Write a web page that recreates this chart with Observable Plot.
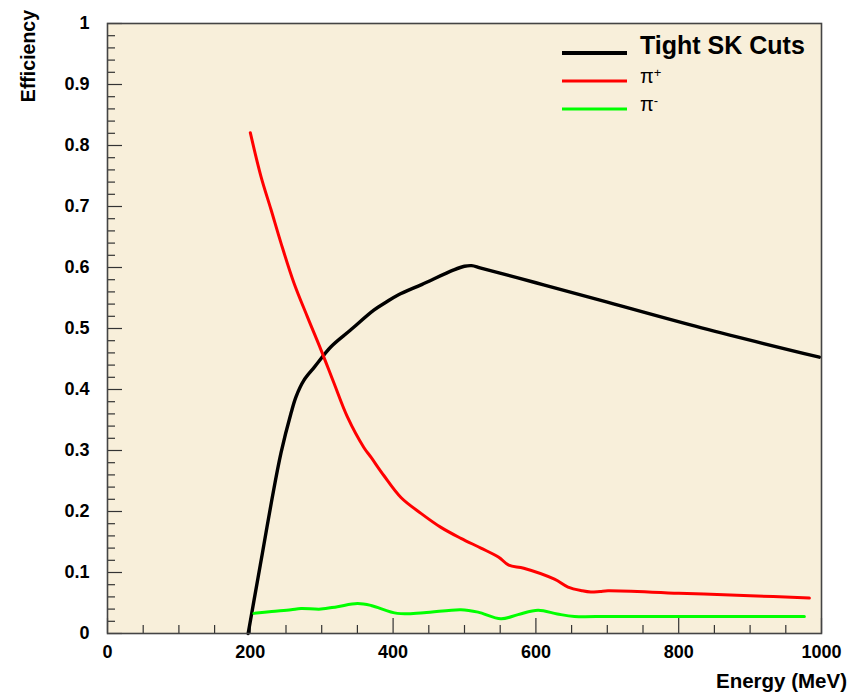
<!DOCTYPE html>
<html>
<head>
<meta charset="utf-8">
<script src="https://cdn.jsdelivr.net/npm/d3@7"></script>
<script src="https://cdn.jsdelivr.net/npm/@observablehq/plot@0.6"></script>
<style>
  html, body { margin: 0; padding: 0; background: #ffffff; }
  svg { display: block; }
</style>
</head>
<body>
<div id="chart"></div>
<script>
// Efficiency vs. energy for the tight SK cuts and for pi+ / pi- samples.
const seriesNames = ["Tight SK Cuts", "π+", "π-"];
const seriesColors = ["#000000", "#ff0000", "#00ff00"];
const seriesWidths = [3.4, 3, 3];

const tightEnergy = [197, 205, 217, 230, 243, 257, 264, 275, 290, 313, 340, 373, 390, 407, 440, 485, 500, 510, 523, 600, 691, 832, 997];
const tightEff    = [0, 0.053, 0.132, 0.218, 0.296, 0.361, 0.388, 0.415, 0.437, 0.470, 0.497, 0.530, 0.543, 0.555, 0.572, 0.596, 0.602, 0.603, 0.599, 0.575, 0.546, 0.501, 0.453];

const piPlusEnergy = [200, 215, 229, 243, 261, 280, 299, 317, 336, 359, 369, 387, 411, 439, 467, 495, 523, 548, 562, 583, 626, 645, 665, 677, 690, 701, 800, 900, 983];
const piPlusEff    = [0.821, 0.749, 0.695, 0.640, 0.575, 0.519, 0.465, 0.411, 0.355, 0.305, 0.289, 0.259, 0.223, 0.197, 0.174, 0.156, 0.140, 0.125, 0.112, 0.107, 0.089, 0.076, 0.070, 0.068, 0.069, 0.070, 0.066, 0.062, 0.058];

const piMinusEnergy = [205, 230, 257, 271, 299, 322, 350, 369, 406, 443, 495, 519, 551, 575, 603, 630, 654, 700, 748, 850, 976];
const piMinusEff    = [0.033, 0.036, 0.039, 0.041, 0.040, 0.044, 0.049, 0.046, 0.033, 0.034, 0.039, 0.035, 0.024, 0.031, 0.038, 0.032, 0.028, 0.028, 0.028, 0.028, 0.028];

const xMajorTicks = [0, 200, 400, 600, 800, 1000];
const xMinorTicks = d3.range(50, 1000, 50).filter(v => v % 200 !== 0);
const yMajorTicks = [0, 0.1, 0.2, 0.3, 0.4, 0.5, 0.6, 0.7, 0.8, 0.9, 1];
const yMinorTicks = d3.range(1, 50).filter(i => i % 5 !== 0).map(i => i / 50);

const curves = [
  {energy: tightEnergy, eff: tightEff},
  {energy: piPlusEnergy, eff: piPlusEff},
  {energy: piMinusEnergy, eff: piMinusEff}
].map((c, k) => c.energy.map((e, i) => ({series: seriesNames[k], energy: e, eff: c.eff[i]})));

const font = "'Liberation Sans', Arial, Helvetica, sans-serif";
const tickColor = "#333333";

const chart = Plot.plot({
  width: 866,
  height: 694,
  marginLeft: 107,
  marginRight: 45,
  marginTop: 23,
  marginBottom: 61,
  style: {fontFamily: font, background: "#ffffff", color: "#000000"},
  x: {domain: [0, 1000]},
  y: {domain: [0, 1]},
  color: {domain: seriesNames, range: seriesColors},
  marks: [
    Plot.frame({fill: "#f8efda", stroke: null}),
    // inward-pointing tick marks
    Plot.ruleX(xMinorTicks, {x: d => d, y1: 0, y2: 0, insetBottom: 8, stroke: tickColor, strokeWidth: 1.2}),
    Plot.ruleX(xMajorTicks, {x: d => d, y1: 0, y2: 0, insetBottom: 15, stroke: tickColor, strokeWidth: 1.2}),
    Plot.ruleY(yMinorTicks, {y: d => d, x1: 0, x2: 0, insetRight: -8, stroke: tickColor, strokeWidth: 1.2}),
    Plot.ruleY(yMajorTicks, {y: d => d, x1: 0, x2: 0, insetRight: -15, stroke: tickColor, strokeWidth: 1.2}),
    Plot.axisX(xMajorTicks, {tickSize: 0, tickPadding: 12, label: null, fontSize: 18, fontWeight: "bold", fill: "#000", tickFormat: d => String(d)}),
    Plot.axisY(yMajorTicks, {tickSize: 0, tickPadding: 18, label: null, fontSize: 18, fontWeight: "bold", fill: "#000", tickFormat: d => String(d)}),
    ...curves.map((rows, k) => Plot.line(rows, {
      x: "energy", y: "eff", stroke: "series",
      strokeWidth: seriesWidths[k], curve: "catmull-rom", strokeLinejoin: "round"
    })),
    Plot.frame({stroke: "#444444", strokeWidth: 1.6})
  ]
});

const svg = d3.select(chart);

// axis titles
svg.append("text")
  .attr("transform", "translate(35,10) rotate(-90)")
  .attr("text-anchor", "end")
  .attr("font-family", font)
  .attr("font-weight", "bold")
  .attr("font-size", 19.5)
  .text("Efficiency");

svg.append("text")
  .attr("x", 847)
  .attr("y", 688)
  .attr("text-anchor", "end")
  .attr("font-family", font)
  .attr("font-weight", "bold")
  .attr("font-size", 20.5)
  .text("Energy (MeV)");

// legend
const legendRows = [
  {name: "Tight SK Cuts", sup: null, y: 53, bold: true, size: 25},
  {name: "π", sup: "+", y: 81, bold: false, size: 20},
  {name: "π", sup: "-", y: 109, bold: false, size: 20}
];
legendRows.forEach((r, i) => {
  svg.append("line")
    .attr("x1", 562).attr("x2", 627)
    .attr("y1", r.y).attr("y2", r.y)
    .attr("stroke", seriesColors[i])
    .attr("stroke-width", i === 0 ? 4 : 3);
  const t = svg.append("text")
    .attr("x", 640)
    .attr("y", r.y + (i === 0 ? 1 : 2))
    .attr("text-anchor", "start")
    .attr("font-family", font)
    .attr("font-weight", r.bold ? "bold" : "normal")
    .attr("font-size", r.size)
    .text(r.name);
  if (r.sup) {
    t.append("tspan")
      .attr("dy", "-0.45em")
      .attr("font-size", 13)
      .text(r.sup);
  }
});

document.getElementById("chart").appendChild(chart);
</script>
</body>
</html>
